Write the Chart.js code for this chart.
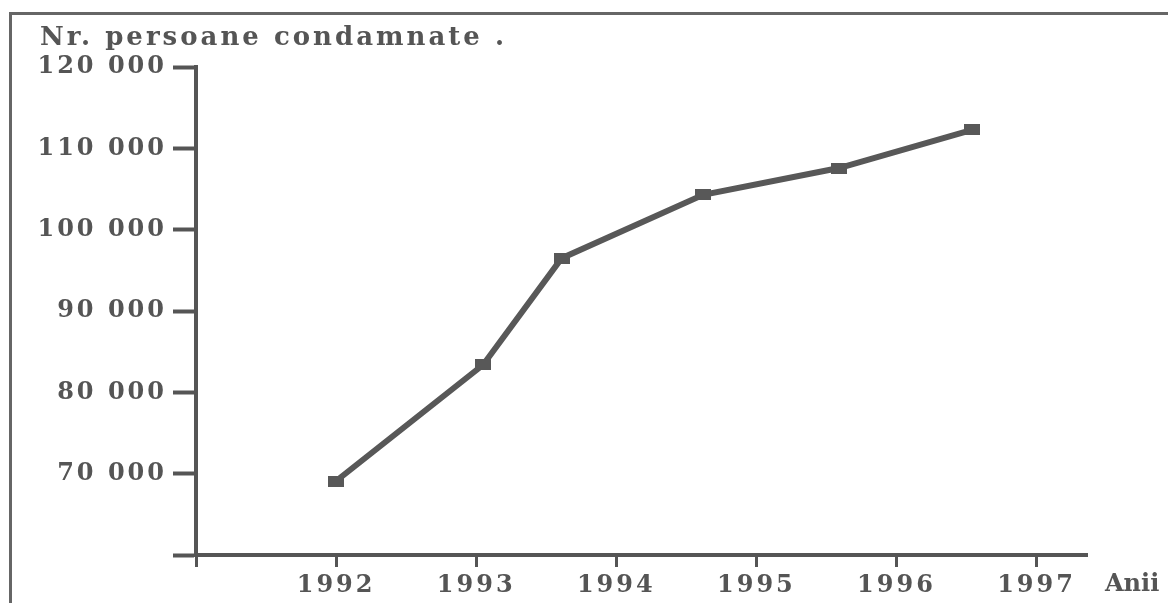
<!DOCTYPE html>
<html>
<head>
<meta charset="utf-8">
<title>Nr. persoane condamnate</title>
<script src="https://cdn.jsdelivr.net/npm/chart.js@4"></script>
<style>
  html, body { margin: 0; padding: 0; background: #fff; }
  #wrap { position: relative; width: 1168px; height: 603px; overflow: hidden; }
  #frame {
    position: absolute; left: 9px; top: 12px; right: 0; bottom: 0;
    border-top: 3px solid #666; border-left: 3px solid #666;
    pointer-events: none;
  }
</style>
</head>
<body>
<div id="wrap">
  <canvas id="chart" width="1168" height="603"></canvas>
  <div id="frame"></div>
</div>
<script>
// anii (pozitia pe axa) si numarul de persoane condamnate
const years = [1992, 1993.05, 1993.61, 1994.62, 1995.59, 1996.54];
const persons = [69100, 83400, 96500, 104300, 107600, 112300];

// diviziunile axelor
const yearTicks = [1991, 1992, 1993, 1994, 1995, 1996, 1997];
const countTicks = [60000, 70000, 80000, 90000, 100000, 110000, 120000];

const ink = "#555";
const lineInk = "#585858";
const font = { family: "'DejaVu Serif', serif", size: 24, weight: "bold" };
const titleFont = { family: "'DejaVu Serif', serif", size: 26, weight: "bold" };
const spacing = "3px";

// marcaj dreptunghiular pentru puncte
const marker = document.createElement("canvas");
marker.width = 16;
marker.height = 11;
const mctx = marker.getContext("2d");
mctx.fillStyle = lineInk;
mctx.fillRect(0, 0, 16, 11);

function thousands(v) {
  return String(v).replace(/\B(?=(\d{3})+(?!\d))/g, " ");
}

// spatiere intre litere + eticheta "Anii" la capatul axei X
const textStyle = {
  id: "textStyle",
  beforeUpdate(chart) { chart.ctx.letterSpacing = spacing; },
  beforeDraw(chart) { chart.ctx.letterSpacing = spacing; },
  afterDraw(chart) {
    const ctx = chart.ctx;
    const area = chart.chartArea;
    ctx.save();
    ctx.letterSpacing = "0px";
    ctx.font = `${font.weight} ${font.size}px ${font.family}`;
    ctx.fillStyle = ink;
    ctx.textAlign = "left";
    ctx.textBaseline = "middle";
    ctx.fillText("Anii", area.right + 18, area.bottom + 30);
    ctx.restore();
  }
};

new Chart(document.getElementById("chart"), {
  type: "line",
  data: {
    datasets: [{
      data: years.map((y, i) => ({ x: y, y: persons[i] })),
      borderColor: lineInk,
      borderWidth: 6,
      tension: 0,
      pointStyle: marker,
      pointRadius: 8,
      fill: false
    }]
  },
  options: {
    responsive: false,
    animation: false,
    layout: { padding: { left: 40, top: 23, right: 81, bottom: 0 } },
    plugins: {
      legend: { display: false },
      tooltip: { enabled: false },
      title: {
        display: true,
        text: "Nr. persoane condamnate .",
        align: "start",
        color: ink,
        font: titleFont,
        padding: { top: 0, bottom: 13 }
      }
    },
    scales: {
      x: {
        type: "linear",
        min: 1991,
        max: 1997.36,
        afterBuildTicks: s => { s.ticks = yearTicks.map(v => ({ value: v })); },
        afterFit: s => { s.height = 48; },
        grid: { display: true, drawOnChartArea: false, drawTicks: true, tickLength: 12, tickWidth: 3, tickColor: ink },
        border: { display: true, width: 4, color: ink },
        ticks: {
          callback: v => (v === 1991 ? "" : String(v)),
          color: ink, font: font, padding: 4, maxRotation: 0, autoSkip: false
        }
      },
      y: {
        min: 60000,
        max: 120000,
        afterBuildTicks: s => { s.ticks = countTicks.map(v => ({ value: v })); },
        afterFit: s => { s.width = 156; },
        grid: { display: true, drawOnChartArea: false, drawTicks: true, tickLength: 23, tickWidth: 4, tickColor: ink },
        border: { display: true, width: 4, color: ink },
        ticks: {
          callback: v => (v === 60000 ? "" : thousands(v)),
          color: ink, font: font, padding: 6, autoSkip: false
        }
      }
    }
  },
  plugins: [textStyle]
});
</script>
</body>
</html>
